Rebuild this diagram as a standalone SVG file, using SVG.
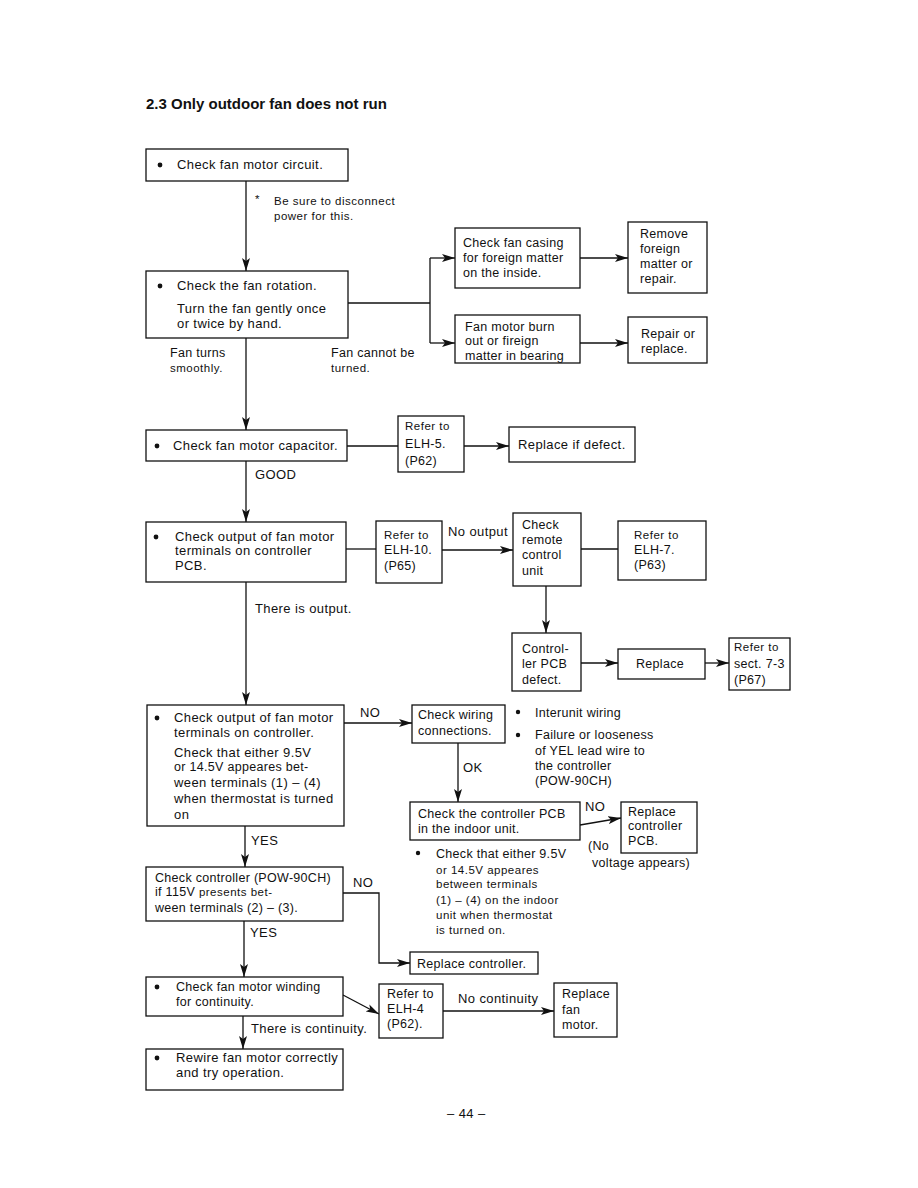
<svg xmlns="http://www.w3.org/2000/svg" width="918" height="1188" viewBox="0 0 918 1188">
<style>
text{font-family:"Liberation Sans",Arial,sans-serif;fill:#111}
.L{font-size:13px;letter-spacing:.4px}
.M{font-size:12.5px;letter-spacing:.3px}
.S{font-size:11.5px;letter-spacing:.5px}
.ttl{font-size:15px;font-weight:bold}
rect{fill:#fff;stroke:#111;stroke-width:1.3}
.c line,.c polyline{stroke:#111;stroke-width:1.3;fill:none}
circle{fill:#111}
</style>
<defs>
<marker id="ah" markerUnits="userSpaceOnUse" markerWidth="14" markerHeight="8" refX="13" refY="4" orient="auto">
<path d="M0,0 L13,4 L0,8 L3,4 Z" fill="#111"/>
</marker>
</defs>
<rect width="918" height="1188" style="fill:#fff;stroke:none"/>
<text class="ttl" x="146" y="109">2.3  Only outdoor fan does not run</text>

<g class="c" id="connectors">
<line x1="246" y1="181" x2="246" y2="271" marker-end="url(#ah)"/>
<line x1="348" y1="303" x2="430" y2="303"/>
<line x1="430" y1="258" x2="430" y2="343"/>
<line x1="430" y1="258" x2="455" y2="258" marker-end="url(#ah)"/>
<line x1="430" y1="343" x2="455" y2="343" marker-end="url(#ah)"/>
<line x1="580" y1="258" x2="628" y2="258" marker-end="url(#ah)"/>
<line x1="580" y1="343" x2="628" y2="343" marker-end="url(#ah)"/>
<line x1="246" y1="338" x2="246" y2="430" marker-end="url(#ah)"/>
<line x1="347" y1="446" x2="398" y2="446"/>
<line x1="464" y1="446" x2="509" y2="446" marker-end="url(#ah)"/>
<line x1="246" y1="461" x2="246" y2="522" marker-end="url(#ah)"/>
<line x1="346" y1="549" x2="376" y2="549"/>
<line x1="442" y1="550" x2="513" y2="550" marker-end="url(#ah)"/>
<line x1="581" y1="549" x2="618" y2="549"/>
<line x1="546" y1="586" x2="546" y2="633" marker-end="url(#ah)"/>
<line x1="581" y1="663" x2="618" y2="663" marker-end="url(#ah)"/>
<line x1="705" y1="663" x2="729" y2="663" marker-end="url(#ah)"/>
<line x1="246" y1="582" x2="246" y2="705" marker-end="url(#ah)"/>
<line x1="344" y1="723" x2="412" y2="723" marker-end="url(#ah)"/>
<line x1="458" y1="743" x2="458" y2="802" marker-end="url(#ah)"/>
<line x1="580" y1="825" x2="621" y2="818" marker-end="url(#ah)"/>
<line x1="245" y1="826" x2="245" y2="867" marker-end="url(#ah)"/>
<polyline points="343,893 379,893 379,963 410,963" marker-end="url(#ah)"/>
<line x1="244" y1="921" x2="244" y2="977" marker-end="url(#ah)"/>
<line x1="343" y1="995" x2="379" y2="1014" marker-end="url(#ah)"/>
<line x1="443" y1="1011" x2="554" y2="1011" marker-end="url(#ah)"/>
<line x1="243" y1="1016" x2="243" y2="1049" marker-end="url(#ah)"/>
</g>

<g id="labels">
<text class="S" x="255" y="203">*</text>
<text class="S" x="274" y="205">Be sure to disconnect</text>
<text class="S" x="274" y="220">power for this.</text>
<text class="M" x="170" y="357">Fan turns</text>
<text class="S" x="170" y="372">smoothly.</text>
<text class="M" x="331" y="357">Fan cannot be</text>
<text class="S" x="331" y="372">turned.</text>
<text class="L" x="255" y="479">GOOD</text>
<text class="L" x="448" y="536">No output</text>
<text class="L" x="255" y="613">There is output.</text>
<text class="L" x="360" y="717">NO</text>
<text class="L" x="463" y="772">OK</text>
<text class="L" x="585" y="811">NO</text>
<text class="M" x="588" y="850">(No</text>
<text class="M" x="592" y="867">voltage appears)</text>
<text class="L" x="251" y="845">YES</text>
<text class="L" x="353" y="887">NO</text>
<text class="L" x="250" y="937">YES</text>
<text class="L" x="458" y="1003">No continuity</text>
<text class="L" x="251" y="1033">There is continuity.</text>
<circle cx="518" cy="712" r="2.2"/>
<text class="M" x="535" y="717">Interunit wiring</text>
<circle cx="518" cy="735" r="2.2"/>
<text class="M" x="535" y="739">Failure or looseness</text>
<text class="M" x="535" y="755">of YEL lead wire to</text>
<text class="M" x="535" y="770">the controller</text>
<text class="M" x="535" y="785">(POW-90CH)</text>
<circle cx="418" cy="853" r="2.2"/>
<text class="M" x="436" y="858">Check that either 9.5V</text>
<text class="S" x="436" y="874">or 14.5V appeares</text>
<text class="S" x="436" y="888">between terminals</text>
<text class="S" x="436" y="904">(1) – (4) on the indoor</text>
<text class="S" x="436" y="919">unit when thermostat</text>
<text class="S" x="436" y="934">is turned on.</text>
<text class="L" x="447" y="1118">– 44 –</text>
</g>

<g id="n1"><rect x="146" y="149" width="202" height="32"/><circle cx="160" cy="165" r="2.4"/><text class="L" x="177" y="169">Check fan motor circuit.</text></g>

<g id="n2"><rect x="146" y="271" width="202" height="67"/><circle cx="160" cy="286" r="2.4"/><text class="L" x="177" y="290">Check the fan rotation.</text><text class="L" x="177" y="313">Turn the fan gently once</text><text class="L" x="177" y="328">or twice by hand.</text></g>

<g id="n3"><rect x="455" y="228" width="125" height="60"/><text class="M" x="463" y="247">Check fan casing</text><text class="M" x="463" y="262">for foreign matter</text><text class="M" x="463" y="277">on the inside.</text></g>

<g id="n4"><rect x="628" y="222" width="79" height="71"/><text class="M" x="640" y="238">Remove</text><text class="M" x="640" y="253">foreign</text><text class="M" x="640" y="268">matter or</text><text class="M" x="640" y="283">repair.</text></g>

<g id="n5"><rect x="455" y="315" width="125" height="48"/><text class="M" x="465" y="331">Fan motor burn</text><text class="M" x="465" y="345">out or fireign</text><text class="M" x="465" y="360">matter in bearing</text></g>

<g id="n6"><rect x="628" y="317" width="79" height="46"/><text class="M" x="641" y="338">Repair or</text><text class="M" x="641" y="353">replace.</text></g>

<g id="n7"><rect x="146" y="430" width="201" height="31"/><circle cx="157" cy="446" r="2.4"/><text class="L" x="173" y="450">Check fan motor capacitor.</text></g>

<g id="n8"><rect x="398" y="416" width="66" height="56"/><text class="S" x="405" y="430">Refer to</text><text class="M" x="405" y="448">ELH-5.</text><text class="M" x="405" y="465">(P62)</text></g>

<g id="n9"><rect x="509" y="427" width="126" height="35"/><text class="L" x="518" y="449">Replace if defect.</text></g>

<g id="n10"><rect x="146" y="522" width="200" height="60"/><circle cx="156" cy="537" r="2.4"/><text class="L" x="175" y="541">Check output of fan motor</text><text class="L" x="175" y="555">terminals on controller</text><text class="L" x="175" y="570">PCB.</text></g>

<g id="n11"><rect x="376" y="521" width="66" height="62"/><text class="S" x="384" y="539">Refer to</text><text class="M" x="384" y="554">ELH-10.</text><text class="M" x="384" y="570">(P65)</text></g>

<g id="n12"><rect x="513" y="513" width="68" height="73"/><text class="M" x="522" y="529">Check</text><text class="M" x="522" y="544">remote</text><text class="M" x="522" y="559">control</text><text class="M" x="522" y="575">unit</text></g>

<g id="n13"><rect x="618" y="521" width="88" height="59"/><text class="S" x="634" y="539">Refer to</text><text class="M" x="634" y="554">ELH-7.</text><text class="M" x="634" y="569">(P63)</text></g>

<g id="n14"><rect x="512" y="633" width="69" height="58"/><text class="M" x="522" y="653">Control-</text><text class="M" x="522" y="668">ler PCB</text><text class="M" x="522" y="684">defect.</text></g>

<g id="n15"><rect x="618" y="649" width="87" height="30"/><text class="M" x="636" y="668">Replace</text></g>

<g id="n16"><rect x="729" y="638" width="61" height="52"/><text class="S" x="734" y="651">Refer to</text><text class="M" x="734" y="668">sect. 7-3</text><text class="M" x="734" y="684">(P67)</text></g>

<g id="n17"><rect x="147" y="705" width="197" height="121"/><circle cx="157" cy="718" r="2.4"/><text class="L" x="174" y="722">Check output of fan motor</text><text class="L" x="174" y="737">terminals on controller.</text><text class="L" x="174" y="757">Check that either 9.5V</text><text class="M" x="174" y="771">or 14.5V appeares bet-</text><text class="L" x="174" y="787">ween terminals (1) – (4)</text><text class="L" x="174" y="803">when thermostat is turned</text><text class="L" x="174" y="819">on</text></g>

<g id="n18"><rect x="412" y="705" width="93" height="38"/><text class="M" x="418" y="719">Check wiring</text><text class="M" x="418" y="735">connections.</text></g>

<g id="n19"><rect x="410" y="802" width="170" height="38"/><text class="M" x="418" y="818">Check the controller PCB</text><text class="M" x="418" y="833">in the indoor unit.</text></g>

<g id="n20"><rect x="621" y="802" width="76" height="51"/><text class="M" x="628" y="816">Replace</text><text class="M" x="628" y="830">controller</text><text class="M" x="628" y="845">PCB.</text></g>

<g id="n21"><rect x="146" y="867" width="197" height="54"/><text class="M" x="155" y="882">Check controller (POW-90CH)</text><text class="M" x="155" y="896">if 115V <tspan class="S">presents bet-</tspan></text><text class="M" x="155" y="912">ween terminals (2) – (3).</text></g>

<g id="n22"><rect x="410" y="952" width="128" height="22"/><text class="M" x="417" y="968">Replace controller.</text></g>

<g id="n23"><rect x="146" y="977" width="197" height="39"/><circle cx="157" cy="987" r="2.4"/><text class="M" x="176" y="991">Check fan motor winding</text><text class="M" x="176" y="1006">for continuity.</text></g>

<g id="n24"><rect x="379" y="984" width="64" height="54"/><text class="M" x="387" y="998">Refer to</text><text class="M" x="387" y="1013">ELH-4</text><text class="M" x="387" y="1028">(P62).</text></g>

<g id="n25"><rect x="554" y="983" width="63" height="54"/><text class="M" x="562" y="998">Replace</text><text class="M" x="562" y="1014">fan</text><text class="M" x="562" y="1029">motor.</text></g>

<g id="n26"><rect x="146" y="1049" width="197" height="41"/><circle cx="157" cy="1058" r="2.4"/><text class="L" x="176" y="1062">Rewire fan motor correctly</text><text class="L" x="176" y="1077">and try operation.</text></g>
</svg>
